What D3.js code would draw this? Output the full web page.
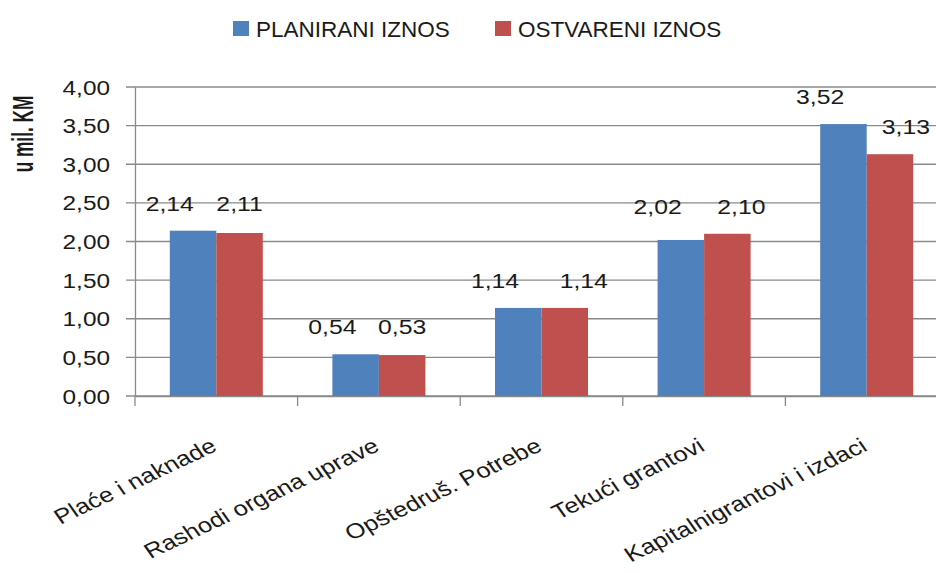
<!DOCTYPE html>
<html>
<head>
<meta charset="utf-8">
<script src="https://cdn.jsdelivr.net/npm/d3@7"></script>
<style>
  html, body { margin: 0; padding: 0; background: #fff; }
  svg { display: block; }
  text { font-family: "Liberation Sans", Arial, sans-serif; fill: #1a1a1a; }
</style>
</head>
<body>
<svg id="chart" width="936" height="573"></svg>
<script>
// ---- data ----
const categories = ["Plaće i naknade", "Rashodi organa uprave", "Opštedruš. Potrebe", "Tekući grantovi", "Kapitalnigrantovi i izdaci"];
const seriesNames = ["PLANIRANI IZNOS", "OSTVARENI IZNOS"];
const planirani = [2.14, 0.54, 1.14, 2.02, 3.52];
const ostvareni = [2.11, 0.53, 1.14, 2.10, 3.13];
const yTicks = [0, 0.5, 1, 1.5, 2, 2.5, 3, 3.5, 4];
const yTitle = "u mil. KM";

// ---- styling / layout ----
const colors = ["#4F81BD", "#C0504D"];
const redLabelNudge = [0, 0, 19, 14, 16];
const stretch = 1.22;

const svg = d3.select("#chart");
const plotLeft = 135, plotRight = 948, plotTop = 87, plotBottom = 396;

const y = d3.scaleLinear().domain([0, 4]).range([plotBottom, plotTop]);
const x0 = d3.scaleBand().domain(categories).range([plotLeft, plotRight]).paddingInner(0.428).paddingOuter(0.214);
const x1 = d3.scaleBand().domain(seriesNames).range([0, x0.bandwidth()]);
const fmt = v => d3.format(".2f")(v).replace(".", ",");

// gridlines
svg.append("g")
  .selectAll("line").data(yTicks).join("line")
  .attr("x1", plotLeft - 9).attr("x2", 936)
  .attr("y1", d => y(d)).attr("y2", d => y(d))
  .attr("stroke", "#8a8a8a").attr("stroke-width", 1.3);

// y axis
const yAxis = svg.append("g").attr("transform", `translate(${plotLeft},0)`)
  .call(d3.axisLeft(y).tickValues(yTicks).tickFormat(fmt).tickSize(0).tickPadding(0));
yAxis.select(".domain").attr("stroke", "#8a8a8a").attr("stroke-width", 1.3);
yAxis.selectAll("text")
  .attr("x", null).attr("dy", null)
  .attr("text-anchor", "end")
  .attr("transform", `translate(-25,7) scale(${stretch + 0.03},1)`)
  .style("font-size", "19.5px")
  .style("fill", "#1a1a1a");

// x axis line and ticks at category boundaries
const xAxis = svg.append("g").attr("transform", `translate(0,${plotBottom})`)
  .call(d3.axisBottom(x0).tickSize(0).tickFormat(""));
xAxis.select(".domain").attr("stroke", "#8a8a8a").attr("stroke-width", 1.3);
const boundaries = categories.map(c => x0(c) - x0.step() * x0.paddingOuter());
svg.append("g").selectAll("line").data(boundaries).join("line")
  .attr("x1", d => d).attr("x2", d => d)
  .attr("y1", plotBottom).attr("y2", plotBottom + 10)
  .attr("stroke", "#8a8a8a").attr("stroke-width", 1.3);

// category labels
svg.append("g").selectAll("text").data(categories).join("text")
  .attr("transform", d => `translate(${x0(d) + x0.bandwidth() / 2 + 2},450) scale(${stretch},1) rotate(-30)`)
  .attr("text-anchor", "end")
  .style("font-size", "21px")
  .text(d => d);

// bars
const rows = categories.map((c, i) => ({ cat: c, vals: [planirani[i], ostvareni[i]], i }));
const groups = svg.append("g").selectAll("g").data(rows).join("g")
  .attr("transform", d => `translate(${x0(d.cat)},0)`);
groups.selectAll("rect").data(d => d.vals.map((v, k) => ({ v, k, s: seriesNames[k] })))
  .join("rect")
  .attr("x", d => x1(d.s))
  .attr("width", x1.bandwidth())
  .attr("y", d => y(d.v))
  .attr("height", d => y(0) - y(d.v))
  .attr("fill", d => colors[d.k]);

// value labels
groups.each(function (d) {
  const g = d3.select(this);
  const [a, b] = d.vals;
  d.vals.forEach((v, k) => {
    const ref = Math.abs(a - b) < 0.2 ? Math.max(a, b) : v;
    const cx = k === 0 ? x1(seriesNames[0]) : x1(seriesNames[1]) + x1.bandwidth() / 2 + redLabelNudge[d.i];
    g.append("text")
      .attr("transform", `translate(${cx},${y(ref) - 20}) scale(${stretch - 0.04},1)`)
      .attr("text-anchor", "middle")
      .style("font-size", "21px")
      .text(fmt(v));
  });
});

// y title
svg.append("text")
  .attr("transform", `translate(33,134) scale(1.38,0.82) rotate(-90)`)
  .attr("text-anchor", "middle")
  .style("font-size", "21px")
  .style("font-weight", "bold")
  .text(yTitle);

// legend
const legendX = [233, 495];
const legend = svg.append("g").selectAll("g").data(seriesNames).join("g")
  .attr("transform", (d, i) => `translate(${legendX[i]},21)`);
legend.append("rect").attr("width", 16).attr("height", 15).attr("fill", (d, i) => colors[i]);
legend.append("text").attr("x", 23).attr("y", 16)
  .style("font-size", "22.5px")
  .text(d => d);
</script>
</body>
</html>
